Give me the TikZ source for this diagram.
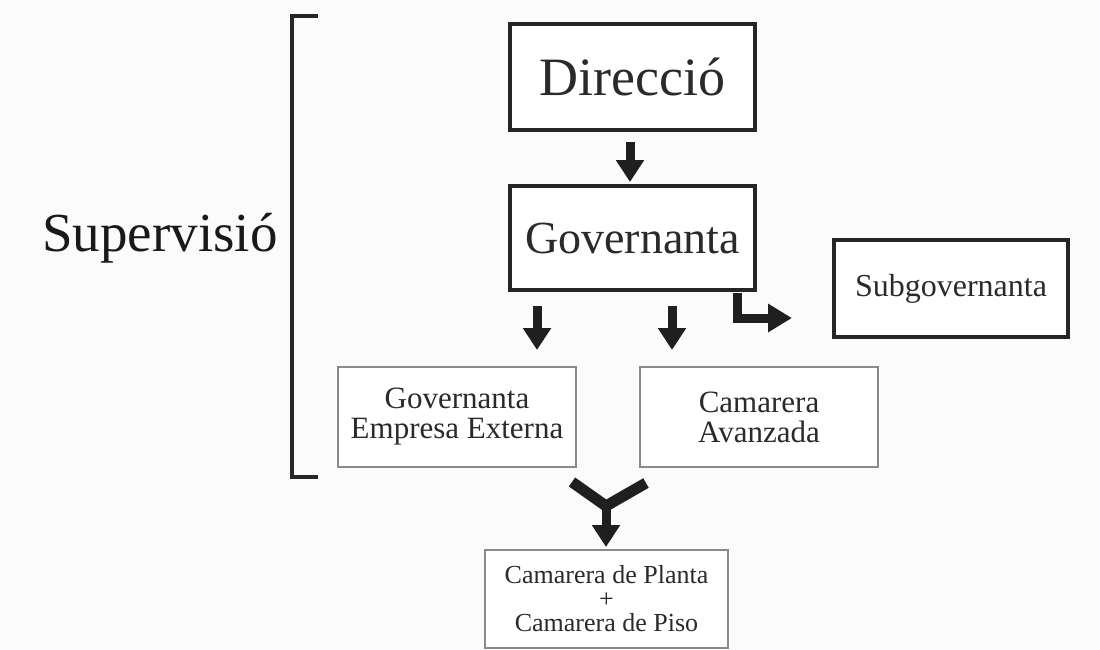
\documentclass[tikz,border=0pt]{standalone}
\usepackage{fontspec}
\setmainfont{Liberation Serif}
\usetikzlibrary{arrows.meta}
\definecolor{txt}{HTML}{2A2A2A}
\definecolor{thin}{HTML}{8A8A8A}
\definecolor{bg}{HTML}{FBFBFB}
\tikzset{
  thickbox/.style={draw=black!85, line width=3.2pt, fill=white, inner sep=0pt, text=txt},
  thinbox/.style={draw=thin, line width=1.3pt, fill=white, inner sep=0pt, text=txt, align=center},
  blockarrow/.style={line width=9pt, black!88, -{Triangle[width=27pt,length=22pt]}},
  bracket/.style={line width=3.4pt, black!85}
}
\begin{document}
\begin{tikzpicture}[x=1pt,y=-1pt]
\fill[bg] (0,0) rectangle (1100,650);
\useasboundingbox (0,0) rectangle (1100,650);

% boxes
\node[thickbox, minimum width=245pt, minimum height=106pt, font=\fontsize{54}{60}\selectfont] (dir) at (632.5,77) {Direcció};
\node[thickbox, minimum width=245pt, minimum height=104pt, font=\fontsize{46}{52}\selectfont] (gov) at (632.5,238) {Governanta};
\node[thickbox, minimum width=234pt, minimum height=97pt, font=\fontsize{32}{36}\selectfont] (sub) at (951,288.5) {Subgovernanta};
\node[thinbox, minimum width=238pt, minimum height=100pt, font=\fontsize{31}{30}\selectfont] (gee) at (457,417) {Governanta\\Empresa Externa};
\node[thinbox, minimum width=238pt, minimum height=100pt, font=\fontsize{31}{30}\selectfont] (cav) at (759,417) {Camarera\\Avanzada};
\node[thinbox, minimum width=243pt, minimum height=98pt, font=\fontsize{26}{24}\selectfont] (cp) at (606.5,599) {Camarera de Planta\\+\\Camarera de Piso};

% label
\node[text=black!90, font=\fontsize{55}{60}\selectfont] (sup) at (160,238) {Supervisió};

% bracket
\coordinate (bt) at (318,16);
\coordinate (bb) at (318,477);
\draw[bracket] (bt) -- (292,16) -- (292,477) -- (bb);

% arrows
\coordinate (a1s) at (630,142);
\draw[blockarrow] (a1s) -- (630,182);
\coordinate (a2s) at (537,306);
\draw[blockarrow] (a2s) -- (537,350);
\coordinate (a3s) at (672,306);
\draw[blockarrow] (a3s) -- (672,350);
\coordinate (a4s) at (737,293);
\draw[line width=9pt, black!88, line join=miter, -{Triangle[width=27pt,length=24pt]}] (a4s) -- (737,318) -- (792,318);

% Y arrow
\coordinate (yl) at (572,482);
\coordinate (yr) at (646,483);
\coordinate (ym) at (606,506);
\draw[line width=11pt, black!88, line join=miter] (yl) -- (ym) -- (yr);
\draw[blockarrow] (ym) -- (606,547);
\end{tikzpicture}
\end{document}
